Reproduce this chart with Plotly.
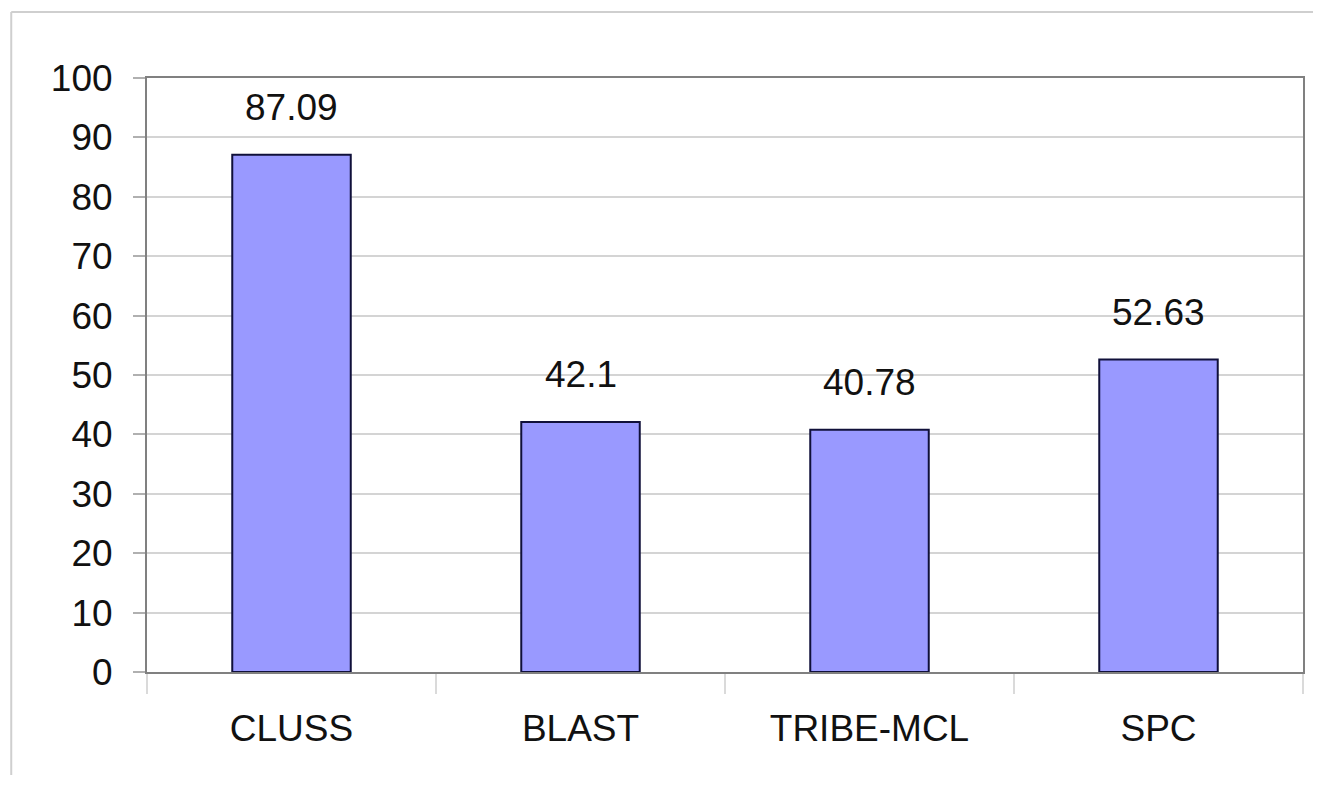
import plotly.graph_objects as go

categories = ["CLUSS", "BLAST", "TRIBE-MCL", "SPC"]
values = [87.09, 42.1, 40.78, 52.63]
labels = ["87.09", "42.1", "40.78", "52.63"]
y_ticks = [0, 10, 20, 30, 40, 50, 60, 70, 80, 90, 100]

FONT = "Liberation Sans, Arial, sans-serif"

fig = go.Figure()
fig.add_trace(go.Bar(
    x=categories, y=values,
    marker=dict(color="#9999ff", line=dict(color="#10103a", width=2)),
    hoverinfo="skip",
))

for c, v, t in zip(categories, values, labels):
    fig.add_annotation(x=c, y=v, text=t, showarrow=False, yanchor="middle",
                       yshift=47, font=dict(family=FONT, size=37, color="#111111"))

# page has an 8px body margin; keep the figure inside the window (no scrollbars)
OFF = 8
W, H = 1323 - 2 * OFF, 795 - 2 * OFF - 12
L, T = 147 - OFF, 78 - OFF
pw, ph = 1158, 594
R = W - L - pw
B = H - T - ph

bx = (11 - OFF - L) / pw
by = 1 + (T - (12 - OFF)) / ph
right_edge = (W - L) / pw
# outer chart-area frame (top and left edges visible)
fig.add_shape(type="line", xref="paper", yref="paper",
              x0=bx, x1=right_edge, y0=by, y1=by,
              line=dict(color="#cfcfcf", width=2), layer="below")
fig.add_shape(type="line", xref="paper", yref="paper",
              x0=bx, x1=bx, y0=by, y1=-B / ph,
              line=dict(color="#cfcfcf", width=2), layer="below")

fig.update_layout(
    width=W, height=H,
    margin=dict(l=L, r=R, t=T, b=B),
    paper_bgcolor="white", plot_bgcolor="white",
    bargap=0.59,
    showlegend=False,
    font=dict(family=FONT, size=37, color="#111111"),
    xaxis=dict(
        showgrid=False, showline=True, linecolor="#808080", linewidth=2, mirror=True,
        ticks="outside", tickson="boundaries", ticklen=20, tickcolor="#dadada", tickwidth=2,
        ticklabelstandoff=23, tickfont=dict(size=37),
    ),
    yaxis=dict(
        range=[0, 100], tickvals=y_ticks, showgrid=True, gridcolor="#d4d4d4", gridwidth=2,
        showline=True, linecolor="#808080", linewidth=2, mirror=True,
        ticks="outside", ticklen=12, tickcolor="#b0b0b0", tickwidth=2,
        ticklabelstandoff=13, tickfont=dict(size=37), zeroline=False,
    ),
)

fig.write_html("out.html")
